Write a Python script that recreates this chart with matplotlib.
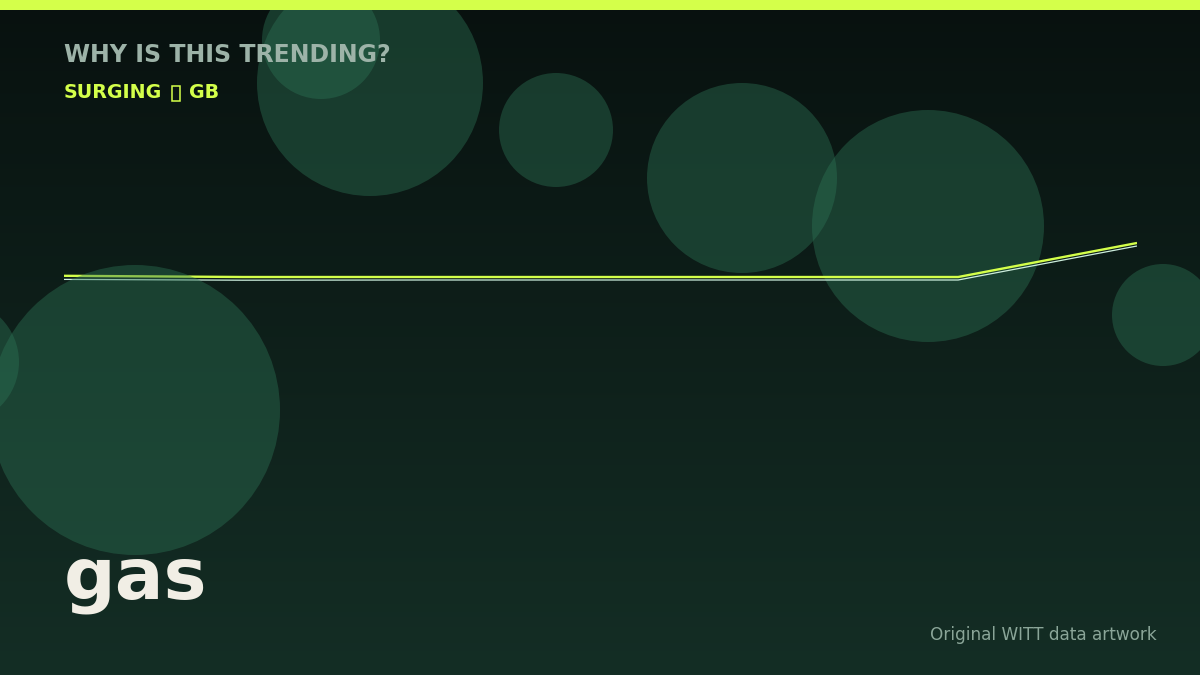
import numpy as np
import matplotlib
matplotlib.use("Agg")
import matplotlib.pyplot as plt
from matplotlib.patches import Circle, Rectangle

# trend series (7 samples), main line and its pale companion
periods = np.arange(7)
trend_main = [10.6, 10.0, 10.0, 10.0, 10.0, 10.0, 27.0]
trend_echo = [8.8, 8.4, 8.5, 8.5, 8.5, 8.5, 25.5]

# decorative bubbles (pixel space), back layer and front layer
back_x = [370, 321, 556, 742, 928, 1163]
back_y = [83, 40, 130, 178, 226, 315]
back_r = [113, 59, 57, 95, 116, 51]
front_x = [135, -43]
front_y = [410, 362]
front_r = [145, 62]

title = "WHY IS THIS TRENDING?"
subtitle_left = "SURGING"
subtitle_right = "GB"   # the reference shows an empty glyph box between these
keyword = "gas"
credit = "Original WITT data artwork"

W, H = 1200, 675
LIME = "#d4ff4a"
fig = plt.figure(figsize=(12, 6.75), dpi=100)

# background gradient + back bubbles
ax_bg = fig.add_axes([0, 0, 1, 1], zorder=0)
grad = np.linspace(0, 1, 256)[:, None]
top = np.array([8, 17, 15]) / 255
bot = np.array([20, 46, 37]) / 255
img = top + grad[..., None] * (bot - top)
ax_bg.imshow(img, extent=(0, W, H, 0), aspect="auto")
for x, y, r in zip(back_x, back_y, back_r):
    ax_bg.add_patch(Circle((x, y), r, color="#2d7355", alpha=0.42, lw=0))
ax_bg.set_xlim(0, W)
ax_bg.set_ylim(H, 0)
ax_bg.axis("off")

# trend lines
ax = fig.add_axes([64 / W, 1 - 297 / H, (1137 - 64) / W, 120 / H], zorder=1)
ax.patch.set_alpha(0)
ax.plot(periods, trend_echo, color="#cdeedd", lw=0.9, solid_capstyle="butt")
ax.plot(periods, trend_main, color=LIME, lw=1.7, solid_capstyle="butt")
ax.set_xlim(0, 6)
ax.set_ylim(0, 60)
ax.axis("off")

# front bubbles
ax_fg = fig.add_axes([0, 0, 1, 1], zorder=2)
ax_fg.patch.set_alpha(0)
for x, y, r in zip(front_x, front_y, front_r):
    ax_fg.add_patch(Circle((x, y), r, color="#2d7355", alpha=0.42, lw=0))
ax_fg.set_xlim(0, W)
ax_fg.set_ylim(H, 0)
ax_fg.axis("off")

# top bar
ax_fg.add_patch(Rectangle((0, 0), W, 10, color=LIME, lw=0, zorder=5))

fig.text(64 / W, 1 - 62 / H, title, fontsize=17, fontweight="bold",
         color="#9db3a8", zorder=10)

# subtitle: text, missing-glyph box, text
renderer = fig.canvas.get_renderer()
t1 = fig.text(64 / W, 1 - 98 / H, subtitle_left, fontsize=13.7,
              fontweight="bold", color=LIME, zorder=10)
x_end = t1.get_window_extent(renderer).x1
box_x = x_end + 10
ax_fg.add_patch(Rectangle((box_x, 86), 8, 15, fill=False, ec=LIME, lw=1.1,
                          zorder=6))
fig.text((box_x + 17) / W, 1 - 98 / H, subtitle_right, fontsize=13.7,
         fontweight="bold", color=LIME, zorder=10)

fig.text(64 / W, 1 - 599 / H, keyword, fontsize=52, fontweight="bold",
         color="#f1eee5", zorder=10)
fig.text(1157 / W, 1 - 640 / H, credit, fontsize=12.2, ha="right",
         color="#8aa598", zorder=10)

fig.savefig("out.png", dpi=100)
